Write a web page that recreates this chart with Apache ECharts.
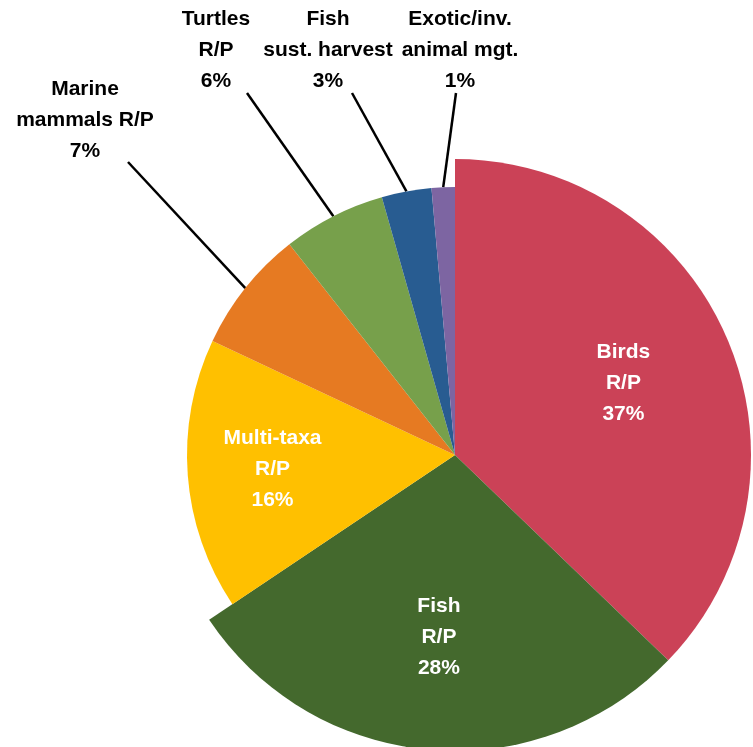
<!DOCTYPE html>
<html>
<head>
<meta charset="utf-8">
<script src="https://cdn.jsdelivr.net/npm/echarts@6/dist/echarts.min.js"></script>
<style>
  html, body { margin: 0; padding: 0; background: #fff; }
  #chart { width: 753px; height: 747px; }
</style>
</head>
<body>
<div id="chart"></div>
<script>
// ---- data ----
const categories = ["Birds R/P", "Fish R/P", "Multi-taxa R/P", "Marine mammals R/P", "Turtles R/P", "Fish sust. harvest", "Exotic/inv. animal mgt."];
const labelTexts = ["Birds\nR/P", "Fish\nR/P", "Multi-taxa\nR/P", "Marine\nmammals R/P", "Turtles\nR/P", "Fish\nsust. harvest", "Exotic/inv.\nanimal mgt."];
const values = [37.2, 28.4, 16.4, 7.4, 6.2, 3.0, 1.4];
const colors = ["#CB4257", "#44692D", "#FFC000", "#E67A22", "#77A04B", "#285C91", "#7D65A2"];
const largeSlice = [true, true, false, false, false, false, false];
const insideLabel = [true, true, true, false, false, false, false];

// ---- layout ----
const CX = 455, CY = 455;
const R_LARGE = 296, R_SMALL = 268;
const INSIDE_DIST = 183;
const FONT = "'Liberation Sans', Arial, Helvetica, sans-serif";
// outside label placement (label center x/y, leader line end lx/ly)
const outsidePos = {
  3: { x: 85, y: 120, lx: 128, ly: 162 },
  4: { x: 216, y: 50, lx: 247, ly: 93 },
  5: { x: 328, y: 50, lx: 352, ly: 93 },
  6: { x: 460, y: 50, lx: 456, ly: 93 }
};

const TRANSPARENT = "rgba(0,0,0,0)";

function fmt(p) {
  return labelTexts[p.dataIndex] + "\n" + Math.round(p.percent) + "%";
}

function layoutFn(p) {
  const i = p.dataIndex;
  const o = outsidePos[i];
  if (o) {
    const pts = p.labelLinePoints;
    return {
      x: o.x, y: o.y, align: "center", verticalAlign: "middle",
      labelLinePoints: pts ? [pts[0], [o.lx, o.ly]] : undefined
    };
  }
  const r = p.labelRect;
  const mx = r.x + r.width / 2, my = r.y + r.height / 2;
  const dx = mx - CX, dy = my - CY;
  const d = Math.sqrt(dx * dx + dy * dy) || 1;
  return {
    x: CX + dx / d * INSIDE_DIST,
    y: CY + dy / d * INSIDE_DIST,
    align: "center", verticalAlign: "middle"
  };
}

function makeData(showLarge) {
  return categories.map(function (name, i) {
    const visible = largeSlice[i] === showLarge;
    return {
      name: name,
      value: values[i],
      itemStyle: { color: visible ? colors[i] : TRANSPARENT },
      label: {
        show: visible,
        position: insideLabel[i] ? "inside" : "outside",
        color: insideLabel[i] ? "#ffffff" : "#000000"
      },
      labelLine: { show: visible && !insideLabel[i] }
    };
  });
}

const baseSeries = {
  type: "pie",
  center: [CX, CY],
  startAngle: 90,
  clockwise: true,
  avoidLabelOverlap: false,
  silent: true,
  animation: false,
  itemStyle: { borderWidth: 0 },
  label: {
    formatter: fmt,
    fontFamily: FONT,
    fontWeight: "bold",
    fontSize: 21,
    lineHeight: 31,
    align: "center"
  },
  labelLine: {
    show: true,
    length: 20,
    length2: 0,
    lineStyle: { color: "#000000", width: 2.5 }
  },
  labelLayout: layoutFn
};

const chart = echarts.init(document.getElementById("chart"), null, { renderer: "canvas" });
chart.setOption({
  backgroundColor: "#ffffff",
  animation: false,
  series: [
    Object.assign({}, baseSeries, { radius: [0, R_LARGE], data: makeData(true) }),
    Object.assign({}, baseSeries, { radius: [0, R_SMALL], data: makeData(false) })
  ]
});
</script>
</body>
</html>
